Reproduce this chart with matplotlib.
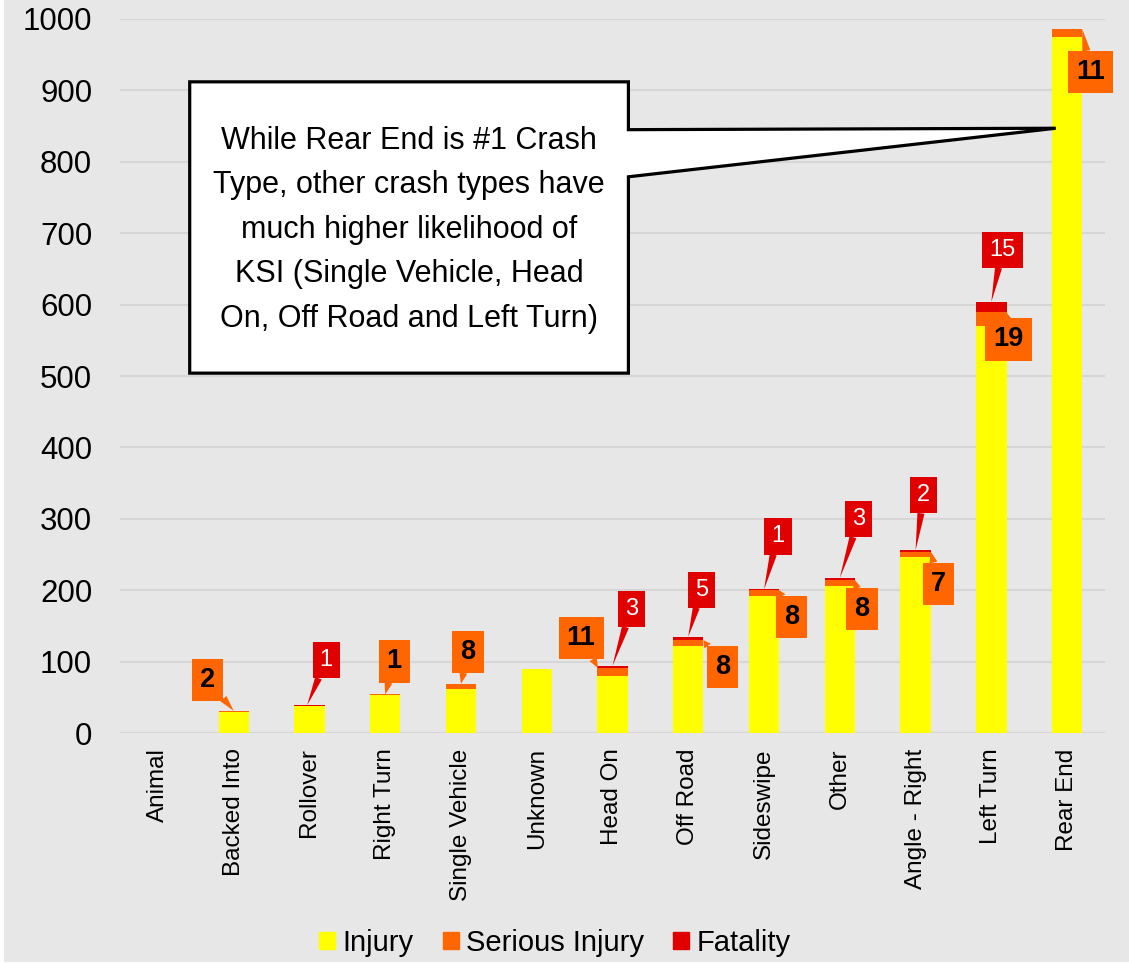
import matplotlib
matplotlib.use("Agg")
import matplotlib.pyplot as plt
from matplotlib.patches import Patch, Polygon, Rectangle
import numpy as np

plt.rcParams["font.family"] = ["Liberation Sans", "DejaVu Sans"]

# data
categories = ["Animal", "Backed Into", "Rollover", "Right Turn", "Single Vehicle", "Unknown",
              "Head On", "Off Road", "Sideswipe", "Other", "Angle - Right", "Left Turn", "Rear End"]
injury = [0, 29, 38, 53, 61, 89, 80, 122, 192, 206, 247, 570, 975]
serious = [0, 2, 0, 1, 8, 0, 11, 8, 8, 8, 7, 19, 11]
fatal = [0, 0, 1, 0, 0, 0, 3, 5, 1, 3, 2, 15, 0]

callout_text = ("While Rear End is #1 Crash\nType, other crash types have\nmuch higher likelihood of\n"
                "KSI (Single Vehicle, Head\nOn, Off Road and Left Turn)")

YELLOW = "#FFFF00"
ORANGE = "#FF6600"
RED = "#E00000"
BG = "#E7E7E7"

# label placement: (category, kind, tip shift in bar units, offset of box in px)
label_layout = [
    ("Backed Into", "s", 0.0, (-26, 31)),
    ("Rollover", "f", -0.03, (19, 45)),
    ("Right Turn", "s", 0.0, (9, 33)),
    ("Single Vehicle", "s", 0.0, (7, 32)),
    ("Head On", "s", -0.19, (-17, 30)),
    ("Head On", "f", 0.0, (19, 57)),
    ("Off Road", "f", 0.0, (13, 47)),
    ("Off Road", "s", 0.2, (19, -27)),
    ("Sideswipe", "f", 0.0, (14, 53)),
    ("Sideswipe", "s", 0.2, (12, -27)),
    ("Other", "f", 0.0, (19, 59)),
    ("Other", "s", 0.2, (7, -29)),
    ("Angle - Right", "f", 0.0, (8, 55)),
    ("Angle - Right", "s", 0.2, (8, -32)),
    ("Left Turn", "f", 0.0, (11, 52)),
    ("Left Turn", "s", 0.2, (2, -27)),
    ("Rear End", "s", 0.2, (8, -43)),
]

fig = plt.figure(figsize=(11.29, 9.63), dpi=100, facecolor=BG)
ax = fig.add_axes([120 / 1129, 230 / 963, 985 / 1129, 714 / 963])
ax.set_facecolor(BG)

x = np.arange(len(categories))
inj = np.array(injury)
ser = np.array(serious)
fat = np.array(fatal)
w = 0.4
ax.bar(x, inj, w, color=YELLOW, label="Injury", zorder=2)
ax.bar(x, ser, w, bottom=inj, color=ORANGE, label="Serious Injury", zorder=2)
ax.bar(x, fat, w, bottom=inj + ser, color=RED, label="Fatality", zorder=2)

ax.set_xlim(-0.5, len(categories) - 0.5)
ax.set_ylim(0, 1000)
ax.set_yticks(np.arange(0, 1001, 100))
ax.yaxis.grid(True, color="#D6D6D6", lw=1.5, zorder=0)
ax.set_axisbelow(True)
for s in ax.spines.values():
    s.set_visible(False)
ax.tick_params(axis="y", length=0, labelsize=22.5, pad=20)
ax.set_xticks(x)
ax.set_xticklabels(categories, rotation=90, ha="center", va="top", fontsize=17.5)
ax.tick_params(axis="x", length=0, pad=11)

px = 0.72  # pixels -> points
for cat, kind, tdx, (ox, oy) in label_layout:
    i = categories.index(cat)
    if kind == "s":
        val, top, col, tc, fw, fs = serious[i], injury[i] + serious[i], ORANGE, "black", "bold", 19.5
    else:
        val, top, col, tc, fw, fs = fatal[i], injury[i] + serious[i] + fatal[i], RED, "white", "normal", 17
    ax.annotate(str(val), xy=(i + tdx, top), xytext=(ox * px, oy * px), textcoords="offset points",
                ha="center", va="center", fontsize=fs, fontweight=fw, color=tc, zorder=5,
                bbox=dict(boxstyle="square,pad=0.3", fc=col, ec="none"),
                arrowprops=dict(arrowstyle="wedge,tail_width=0.3,shrink_factor=0.5", fc=col, ec="none",
                                shrinkA=0, shrinkB=0))

# big callout pointing at Rear End
re = categories.index("Rear End")
x0, x1, yt, yb = 0.42, 6.21, 912, 504
tip = (re - 0.15, 847)
shape = Polygon([(x0, yt), (x1, yt), (x1, 845), tip, (x1, 779), (x1, yb), (x0, yb)],
                closed=True, fc="white", ec="black", lw=2.3, zorder=6, joinstyle="miter")
ax.add_patch(shape)
ax.text((x0 + x1) / 2, (yt + yb) / 2 - 3, callout_text, ha="center", va="center", fontsize=22,
        linespacing=1.63, zorder=7)

handles = [Patch(color=YELLOW, label="Injury"), Patch(color=ORANGE, label="Serious Injury"),
           Patch(color=RED, label="Fatality")]
fig.legend(handles=handles, loc="center", bbox_to_anchor=(0.4916, 20 / 963), ncol=3, frameon=False,
           fontsize=21, handlelength=0.55, handleheight=0.55, handletextpad=0.25, columnspacing=1.0)

# thin white edge on the left and bottom of the picture
fig.patches.append(Rectangle((0, 0), 4 / 1129, 1, transform=fig.transFigure, fc="white", ec="none", zorder=10))
fig.patches.append(Rectangle((0, 0), 1, 1 / 963, transform=fig.transFigure, fc="white", ec="none", zorder=10))

fig.savefig("out.png", dpi=100, facecolor=BG)
